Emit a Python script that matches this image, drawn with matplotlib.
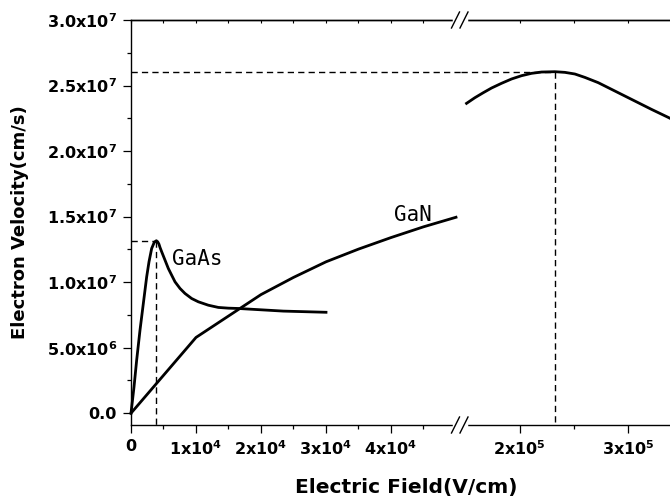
import numpy as np
import matplotlib.pyplot as plt
from matplotlib.lines import Line2D

# Ajustes de fuente (la parte math usa la fuente del texto)
plt.rcParams['font.family'] = 'DejaVu Sans'
plt.rcParams['mathtext.default'] = 'regular'

# Curva GaAs [V/cm], [cm/s]
CAMPO_GAAS = [0, 462, 872, 1385, 1897, 2410, 2769, 3180, 3590, 3900, 4100, 4300, 4462,
              4718, 5231, 5744, 6257, 6770, 7538, 8308, 9334, 10359, 11897, 13436,
              14974, 16512, 23430, 30000]
VEL_GAAS = [0, 2.0e6, 4.05e6, 6.34e6, 8.37e6, 1.04e7, 1.155e7, 1.257e7, 1.305e7, 1.316e7,
            1.308e7, 1.29e7, 1.265e7, 1.232e7, 1.168e7, 1.104e7, 1.053e7, 1.0025e7,
            9.52e6, 9.135e6, 8.75e6, 8.5e6, 8.24e6, 8.07e6, 8.015e6, 7.99e6, 7.79e6, 7.7e6]

# Curva GaN, tramo bajo campo (antes del corte)
CAMPO_GAN_1 = [0, 1.0e4, 2.0e4, 2.5e4, 3.0e4, 3.5e4, 4.0e4, 4.5e4, 5.0e4]
VEL_GAN_1 = [0, 5.78e6, 9.05e6, 1.036e7, 1.155e7, 1.252e7, 1.34e7, 1.422e7, 1.495e7]

# Curva GaN, tramo alto campo (despues del corte)
CAMPO_GAN_2 = [1.5062e5, 1.5833e5, 1.6605e5, 1.7377e5, 1.8303e5, 1.9229e5, 2.0154e5,
               2.108e5, 2.2006e5, 2.3241e5, 2.4167e5, 2.5093e5, 2.6019e5, 2.7253e5,
               2.8488e5, 2.9722e5, 3.0957e5, 3.2191e5, 3.3734e5, 3.39e5]
VEL_GAN_2 = [2.364e7, 2.407e7, 2.445e7, 2.481e7, 2.517e7, 2.550e7, 2.575e7, 2.593e7,
             2.603e7, 2.6055e7, 2.6005e7, 2.588e7, 2.562e7, 2.522e7, 2.471e7, 2.42e7,
             2.369e7, 2.318e7, 2.257e7, 2.25e7]

# Ticks y etiquetas
YTICKS = [0, 5e6, 1e7, 1.5e7, 2e7, 2.5e7, 3e7]
YTICK_LABELS = ['0.0', '5.0x10$^{6}$', '1.0x10$^{7}$', '1.5x10$^{7}$', '2.0x10$^{7}$',
                '2.5x10$^{7}$', '3.0x10$^{7}$']
XTICKS_1 = [0, 1e4, 2e4, 3e4, 4e4]
XTICK_LABELS_1 = ['0', '1x10$^{4}$', '2x10$^{4}$', '3x10$^{4}$', '4x10$^{4}$']
XTICKS_2 = [2e5, 3e5]
XTICK_LABELS_2 = ['2x10$^{5}$', '3x10$^{5}$']

W, H = 670, 499
fig = plt.figure(figsize=(W / 100, H / 100), dpi=100)

# Posiciones en pixeles de la figura
X0, XB, X1 = 131, 461, 670
YB, YT = 425, 20
ax1 = fig.add_axes([X0 / W, 1 - YB / H, (XB - X0) / W, (YB - YT) / H])
ax2 = fig.add_axes([XB / W, 1 - YB / H, (X1 - XB) / W, (YB - YT) / H])

YLIM = (-0.9e6, 3.0e7)
ax1.set_xlim(0, 5.077e4)
ax2.set_xlim(1.455e5, 3.39e5)
for ax in (ax1, ax2):
    ax.set_ylim(*YLIM)
    ax.patch.set_visible(False)
    for s in ax.spines.values():
        s.set_linewidth(1.0)

ax1.spines['right'].set_visible(False)
ax2.spines['left'].set_visible(False)
ax2.spines['right'].set_visible(False)

# Curvas
ax1.plot(CAMPO_GAAS, VEL_GAAS, 'k-', lw=2.0, clip_on=False, solid_joinstyle='round')
ax1.plot(CAMPO_GAN_1, VEL_GAN_1, 'k-', lw=2.0, clip_on=False, solid_joinstyle='round')
ax2.plot(CAMPO_GAN_2, VEL_GAN_2, 'k-', lw=2.0, solid_joinstyle='round')

# Lineas de pico punteadas
i_gaas = int(np.argmax(VEL_GAAS))
x_gaas, v_gaas = CAMPO_GAAS[i_gaas], VEL_GAAS[i_gaas]
i_gan = int(np.argmax(VEL_GAN_2))
x_gan, v_gan = CAMPO_GAN_2[i_gan], VEL_GAN_2[i_gan]
dash = dict(color='k', lw=1.0, dashes=(4.5, 3.0))
ax1.plot([0, x_gaas], [v_gaas, v_gaas], **dash)
ax1.plot([x_gaas, x_gaas], [v_gaas, YLIM[0]], **dash)
ax1.plot([0, ax1.get_xlim()[1]], [v_gan, v_gan], **dash)
ax2.plot([ax2.get_xlim()[0], x_gan], [v_gan, v_gan], **dash)
ax2.plot([x_gan, x_gan], [v_gan, YLIM[0]], **dash)

# Etiquetas de curvas
mono = dict(family='DejaVu Sans Mono', fontsize=15, color='k')
ax1.text(6300, 1.1e7, 'GaAs', ha='left', va='bottom', **mono)
ax1.text(4.046e4, 1.435e7, 'GaN', ha='left', va='bottom', **mono)

# Ejes y ticks
ax1.set_yticks(YTICKS)
ax1.set_yticklabels(YTICK_LABELS)
ax1.set_yticks(np.arange(2.5e6, 3e7, 5e6), minor=True)
ax1.set_xticks(XTICKS_1)
ax1.set_xticklabels(XTICK_LABELS_1)
ax1.set_xticks([5e3, 1.5e4, 2.5e4, 3.5e4, 4.5e4], minor=True)
ax2.set_yticks([])
ax2.set_xticks(XTICKS_2)
ax2.set_xticklabels(XTICK_LABELS_2)
ax2.set_xticks([2.5e5], minor=True)

for ax in (ax1, ax2):
    ax.tick_params(which='major', length=6, width=0.9, direction='out', pad=4)
    ax.tick_params(which='minor', length=3, width=0.9, direction='out')
    for lab in ax.get_xticklabels() + ax.get_yticklabels():
        lab.set_fontweight('bold')
        lab.set_fontsize(11.5)
    sec = ax.secondary_xaxis('top')
    sec.set_xticks(ax.get_xticks())
    sec.set_xticks(ax.get_xticks(minor=True), minor=True)
    sec.tick_params(which='both', direction='in', length=2, width=0.8, labeltop=False)
    sec.spines['top'].set_linewidth(1.0)

# Marcas de corte //
for yp in (YT, YB):
    fig.add_artist(Line2D([454 / W, 466 / W], [1 - yp / H, 1 - yp / H], color='white',
                          lw=2.5, zorder=10))
    for xc in (455.5, 464.0):
        fig.add_artist(Line2D([(xc - 4) / W, (xc + 4) / W], [1 - (yp + 8) / H, 1 - (yp - 8) / H],
                              color='k', lw=1.0, zorder=11))

# Titulos de ejes
fig.text(406 / W, 1 - 487 / H, 'Electric Field(V/cm)', ha='center', va='center',
         fontsize=14.5, fontweight='bold')
fig.text(20 / W, 1 - 222 / H, 'Electron Velocity(cm/s)', ha='center', va='center',
         rotation=90, fontsize=13, fontweight='bold')

fig.savefig('out.png', dpi=100)
